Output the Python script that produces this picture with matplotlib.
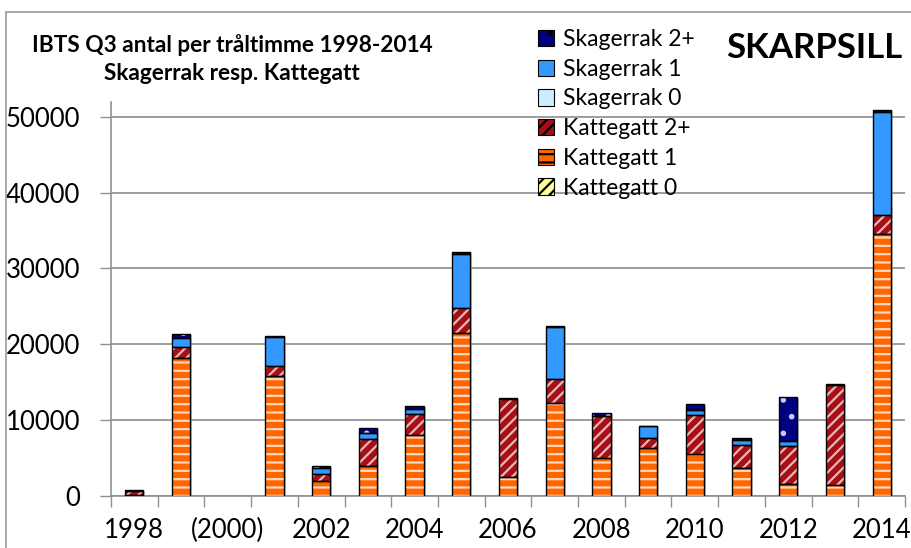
import numpy as np
import matplotlib
matplotlib.use("Agg")
import matplotlib.pyplot as plt
import matplotlib.transforms as mtransforms
from matplotlib.patches import Patch, Rectangle

plt.rcParams['font.family'] = ['Lato', 'DejaVu Sans']

# ---- data ----
years = ["1998", "1999", "2000", "2001", "2002", "2003", "2004", "2005", "2006",
         "2007", "2008", "2009", "2010", "2011", "2012", "2013", "2014"]
tick_labels = ["1998", "(2000)", "2002", "2004", "2006", "2008", "2010", "2012", "2014"]
kattegatt_0 = [0, 0, 0, 0, 0, 0, 0, 0, 0, 0, 0, 0, 0, 0, 0, 0, 0]
kattegatt_1 = [100, 18200, 0, 15800, 1900, 3850, 7950, 21500, 2450, 12150, 4950,
               6300, 5430, 3620, 1500, 1330, 34500]
kattegatt_2 = [550, 1400, 0, 1300, 1000, 3650, 2870, 3300, 10300, 3200, 5600,
               1300, 5170, 3100, 5000, 13250, 2500]
skagerrak_0 = [0, 0, 0, 0, 0, 0, 0, 0, 0, 0, 0, 0, 0, 0, 0, 0, 0]
skagerrak_1 = [0, 1200, 0, 3800, 750, 750, 570, 7150, 0, 6950, 0, 1550, 750,
               570, 650, 0, 13700]
skagerrak_2 = [50, 500, 0, 170, 270, 700, 440, 250, 80, 100, 300, 70, 700, 300,
               5800, 80, 150]

series = [
    ("Kattegatt 0", kattegatt_0, "#FFFF99", "#C8C850", "///"),
    ("Kattegatt 1", kattegatt_1, "#FF6600", "#FFD8C0", "--"),
    ("Kattegatt 2+", kattegatt_2, "#A50F15", "#E8B8B8", "///"),
    ("Skagerrak 0", skagerrak_0, "#CCECFF", "#CCECFF", None),
    ("Skagerrak 1", skagerrak_1, "#3399FF", "#3399FF", None),
    ("Skagerrak 2+", skagerrak_2, "#000080", "#C8C8FF", "."),
]

W, H = 912, 548
fig = plt.figure(figsize=(W / 100, H / 100), dpi=100)
ax = fig.add_axes([111 / W, 1 - 495.5 / H, (905 - 111) / W, (495.5 - 101.7) / H])

x = np.arange(len(years))
width = 0.39
plt.rcParams['hatch.linewidth'] = 1.6

# shadow
total = np.zeros(len(years))
for _, vals, *_ in series:
    total += np.array(vals, dtype=float)
shadow_tr = ax.transData + mtransforms.ScaledTranslation(2 / 100, -1 / 100, fig.dpi_scale_trans)
ax.bar(x, total, width, color="#9a9a9a", alpha=0.6, linewidth=0, zorder=2,
       transform=shadow_tr)

bottom = np.zeros(len(years))
handles = {}
for name, vals, fc, hc, hatch in series:
    v = np.array(vals, dtype=float)
    ax.bar(x, v, width, bottom=bottom, facecolor=fc, edgecolor=hc, hatch=hatch,
           linewidth=0, zorder=3)
    mask = v > 0
    ax.bar(x[mask], v[mask], width, bottom=bottom[mask], fill=False,
           edgecolor="black", linewidth=1.0, zorder=4)
    handles[name] = Patch(facecolor=fc, edgecolor="black", hatch=hatch, linewidth=0.8)
    bottom += v

ax.set_xlim(-0.5, 16.5)
ax.set_ylim(0, 52000)
ax.set_yticks([0, 10000, 20000, 30000, 40000, 50000])
ax.set_yticklabels(["0", "10000", "20000", "30000", "40000", "50000"], fontsize=18.5)
ax.set_xticks(x[::2])
ax.set_xticklabels(tick_labels, fontsize=18.5)
ax.set_xticks(np.arange(-0.5, 17, 1), minor=True)
ax.tick_params(axis='x', which='major', length=0, pad=16)
ax.tick_params(axis='x', which='minor', length=8, color="#909090", width=1)
ax.tick_params(axis='y', length=8, color="#909090", width=1, pad=14)
ax.grid(axis='y', color="#8c8c8c", linewidth=1.2, zorder=0)
ax.set_axisbelow(True)
for s in ["top", "right"]:
    ax.spines[s].set_visible(False)
for s in ["left", "bottom"]:
    ax.spines[s].set_color("#909090")
    ax.spines[s].set_linewidth(1.2)

order = ["Skagerrak 2+", "Skagerrak 1", "Skagerrak 0", "Kattegatt 2+", "Kattegatt 1", "Kattegatt 0"]
fig.legend([handles[n] for n in order], order, loc="upper left",
           bbox_to_anchor=(538 / W, 1 - 29 / H), frameon=False, fontsize=16.5,
           handlelength=0.72, handleheight=0.72, handletextpad=0.35,
           labelspacing=0.38, borderpad=0, borderaxespad=0)

fig.text(232 / W, 1 - 45 / H, "IBTS Q3 antal per tråltimme 1998-2014",
         ha="center", va="center", fontsize=16.3, fontweight="bold")
fig.text(232 / W, 1 - 73 / H, "Skagerrak resp. Kattegatt",
         ha="center", va="center", fontsize=16.3, fontweight="bold")
fig.text(814 / W, 1 - 48 / H, "SKARPSILL", ha="center", va="center",
         fontsize=25, fontweight="bold")

fig.patches.append(Rectangle((6 / W, -0.1), 1.2, 1 - 12 / H + 0.1,
                             transform=fig.transFigure, fill=False,
                             edgecolor="#9a9a9a", linewidth=1.2))

fig.savefig("out.png", dpi=100)
